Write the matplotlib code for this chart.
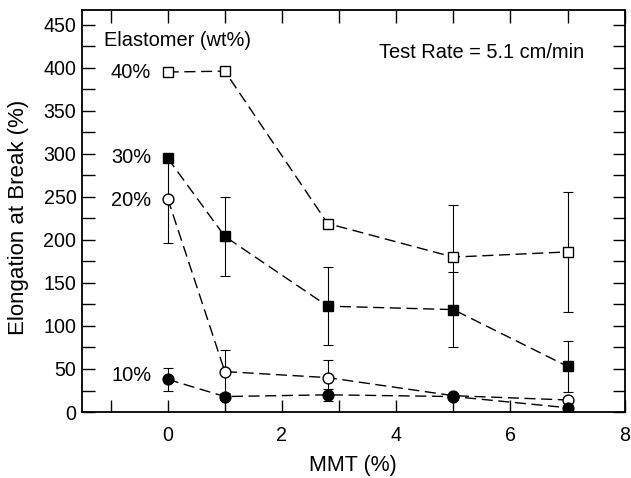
import matplotlib
matplotlib.use("Agg")
import matplotlib.pyplot as plt
from matplotlib.ticker import MultipleLocator

plt.rcParams['font.family'] = ['Liberation Sans', 'DejaVu Sans']

mmt = [0, 1, 2.8, 5, 7]

# elongation at break (%) for each elastomer content
e40 = [395, 396, 219, 180, 186]
e40_err = [0, 0, 0, 60, 70]
e30 = [295, 204, 123, 119, 53]
e30_err = [0, 46, 45, 44, 30]
e20 = [248, 47, 40, 19, 14]
e20_err = [52, 25, 20, 0, 0]
e10 = [38, 18, 20, 18, 5]
e10_err = [13, 0, 7, 0, 0]

series_labels = ['40%', '30%', '20%', '10%']
label_y = [394, 296, 246, 43]

fig = plt.figure(figsize=(6.31, 4.78), dpi=100)
ax = fig.add_axes([0.130, 0.138, 0.860, 0.841])

styles = [
    (e40, e40_err, 's', 'white', 6.7),
    (e30, e30_err, 's', 'black', 6.7),
    (e20, e20_err, 'o', 'white', 7.8),
    (e10, e10_err, 'o', 'black', 7.8),
]

for vals, err, mk, fc, ms in styles:
    ax.errorbar(mmt, vals, yerr=err, fmt='none', ecolor='black',
                elinewidth=0.8, capsize=3.8, capthick=0.8, zorder=1)
    ax.plot(mmt, vals, color='black', lw=1.0, dashes=(8, 4), zorder=2)
for vals, err, mk, fc, ms in styles:
    ax.plot(mmt, vals, ls='none', marker=mk, ms=ms, mfc=fc, mec='black',
            mew=1.0, zorder=3)

for lab, yv in zip(series_labels, label_y):
    ax.text(-0.29, yv, lab, ha='right', va='center', fontsize=14.4)

ax.text(-1.12, 432, 'Elastomer (wt%)', ha='left', va='center', fontsize=14.4)
ax.text(7.29, 418, 'Test Rate = 5.1 cm/min', ha='right', va='center', fontsize=14.4)

ax.set_xlim(-1.5, 8)
ax.set_ylim(0, 467)
ax.xaxis.set_major_locator(MultipleLocator(2))
ax.xaxis.set_minor_locator(MultipleLocator(1))
ax.yaxis.set_major_locator(MultipleLocator(50))
ax.yaxis.set_minor_locator(MultipleLocator(25))
ax.tick_params(which='both', direction='in', top=True, right=True,
               length=9, width=1.0, labelsize=14.1)
ax.tick_params(axis='x', pad=10)
ax.tick_params(axis='y', pad=4)
for sp in ax.spines.values():
    sp.set_linewidth(1.3)

ax.set_xlabel('MMT (%)', fontsize=15.5, labelpad=7)
ax.set_ylabel('Elongation at Break (%)', fontsize=16)
ax.yaxis.set_label_coords(-0.098, 0.485)

fig.savefig('out.png', dpi=100)
